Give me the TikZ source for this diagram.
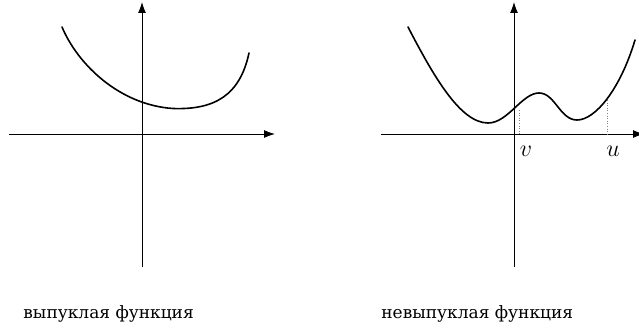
\documentclass[tikz,border=0pt]{standalone}
\usepackage{fontspec}
\newfontfamily\cyr{DejaVu Serif}
\usetikzlibrary{arrows.meta}
\tikzset{
  axis/.style={line width=0.45pt,-{Latex[length=5.5pt,width=4pt]}},
  graph/.style={line width=0.8pt,line cap=round},
  guide/.style={line width=0.3pt,densely dotted,gray},
  caption/.style={font=\cyr\fontsize{8.5}{10}\selectfont,anchor=base west,inner sep=0pt},
  lbl/.style={font=\large,inner sep=0pt}
}
\begin{document}
\begin{tikzpicture}[x=0.5pt,y=-0.5pt]
\useasboundingbox (0,0) rectangle (639,332);
% left panel axes
\coordinate (lxa) at (9,134);
\coordinate (lxb) at (275,134);
\coordinate (lya) at (142,267);
\coordinate (lyb) at (142,2);
\draw[axis] (lxa) -- (lxb);
\draw[axis] (lya) -- (lyb);
\draw[graph] (62,27) .. controls (78,65) and (120,105) .. (173,108.5)
  .. controls (215,110) and (240,95) .. (249,53);
% right panel axes
\coordinate (rxa) at (381,134);
\coordinate (rxb) at (644,134);
\coordinate (rya) at (514,267);
\coordinate (ryb) at (514,2);
\draw[axis] (rxa) -- (rxb);
\draw[axis] (rya) -- (ryb);
\draw[graph] (408,27) .. controls (433,75) and (460,123) .. (488,123)
  .. controls (508,123) and (522,93) .. (539,93)
  .. controls (555,93) and (560,120) .. (577,120)
  .. controls (595,120) and (620,90) .. (635,40);
% dotted guides
\coordinate (vtop) at (519,110);
\coordinate (vbot) at (519,134);
\coordinate (utop) at (607,100);
\coordinate (ubot) at (607,134);
\draw[guide] (vtop) -- (vbot);
\draw[guide] (utop) -- (ubot);
\node[lbl] (v) at (526,151) {$v$};
\node[lbl] (u) at (613,151) {$u$};
% captions
\node[caption] (c1) at (23,318) {выпуклая функция};
\node[caption] (c2) at (381,318) {невыпуклая функция};
\end{tikzpicture}
\end{document}
